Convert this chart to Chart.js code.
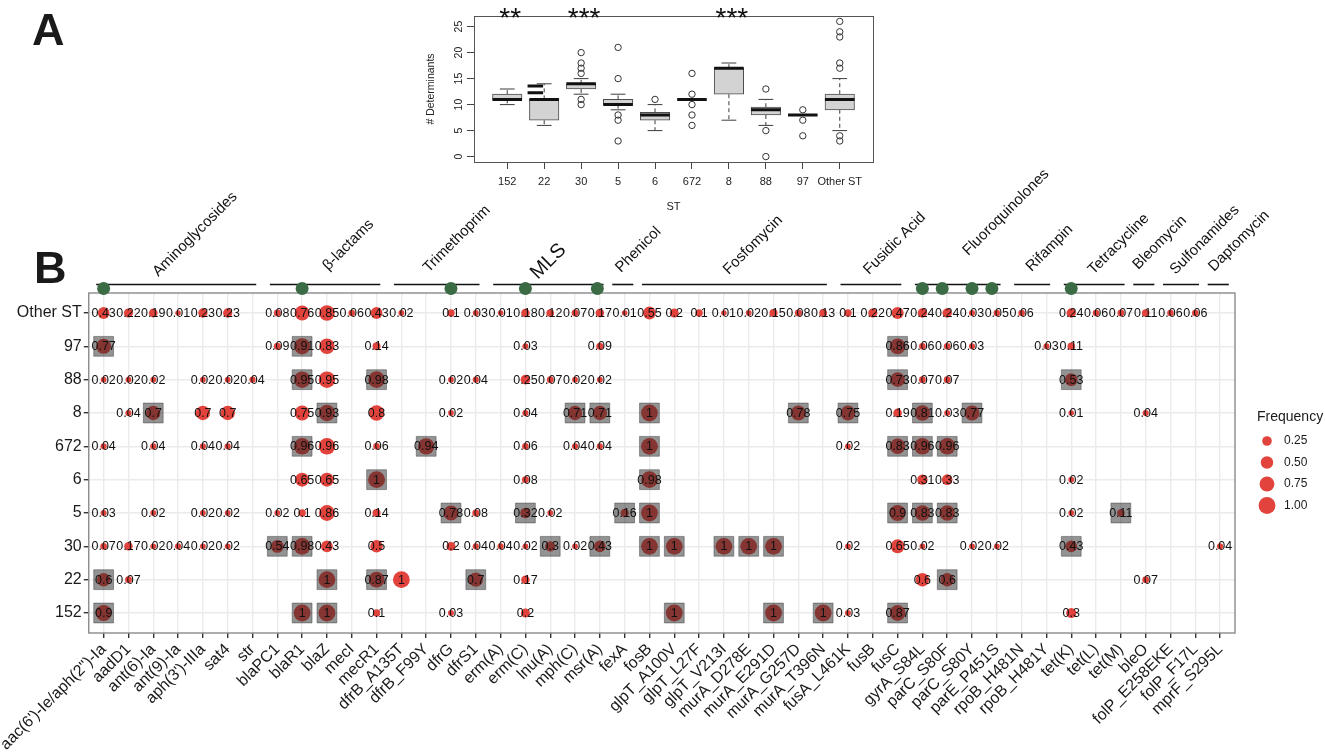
<!DOCTYPE html>
<html>
<head>
<meta charset="utf-8">
<script src="https://cdn.jsdelivr.net/npm/chart.js@4.4.1/dist/chart.umd.min.js"></script>
<style>
  body { margin: 0; background: #fff; }
  #wrap { position: relative; width: 1325px; height: 752px; background: #fff; }
  #panelB { position: absolute; left: 0; top: 0; }
  #panelA { position: absolute; left: 380px; top: 0; }
</style>
</head>
<body>
<div id="wrap">
  <canvas id="panelB" width="1325" height="752"></canvas>
  <canvas id="panelA" width="520" height="215"></canvas>
</div>
<script>
Chart.defaults.font.family = "'Liberation Sans', Arial, sans-serif";
Chart.defaults.color = '#1a1a1a';
const FONT = "'Liberation Sans', Arial, sans-serif";

/* --------------- Panel A : number of determinants per ST --------------- */
const stNames = ['152', '22', '30', '5', '6', '672', '8', '88', '97', 'Other ST'];
const boxMin = [10, 6, 12, 9, 5, 11, 7, 6, 8, 5];
const boxQ1  = [11, 7, 13, 10, 7, 11, 12, 8, 8, 9];
const boxMed = [11, 11, 14, 10, 8, 11, 17, 9, 8, 11];
const boxQ3  = [12, 11, 14, 11, 8.5, 11, 17, 9.5, 8, 12];
const boxMax = [13, 14, 15, 12, 10, 11, 18, 11, 8, 15];
const outliers = [
  [], [], [20, 18, 17, 16, 11, 10], [21, 15, 8, 7, 3], [11],
  [16, 12, 10, 8, 6], [], [13, 5, 0], [9, 7, 4], [26, 24, 23, 18, 17, 4, 3]
];
const st22Marks = [13.6, 12.3];
const sigStars = ['**', '', '***', '', '', '', '***', '', '', ''];
const yTicksA = [0, 5, 10, 15, 20, 25];

/* --------------- Panel B : frequency of each determinant per ST --------------- */
const genes = [
  'aac(6\')-Ie/aph(2")-Ia', 'aadD1', 'ant(6)-Ia', 'ant(9)-Ia', 'aph(3\')-IIIa', 'sat4', 'str',
  'blaPC1', 'blaR1', 'blaZ', 'mecI', 'mecR1', 'dfrB_A135T', 'dfrB_F99Y', 'dfrG', 'dfrS1',
  'erm(A)', 'erm(C)', 'lnu(A)', 'mph(C)', 'msr(A)', 'fexA', 'fosB', 'glpT_A100V', 'glpT_L27F',
  'glpT_V213I', 'murA_D278E', 'murA_E291D', 'murA_G257D', 'murA_T396N', 'fusA_L461K', 'fusB',
  'fusC', 'gyrA_S84L', 'parC_S80F', 'parC_S80Y', 'parE_P451S', 'rpoB_H481N', 'rpoB_H481Y',
  'tet(K)', 'tet(L)', 'tet(M)', 'bleO', 'folP_E258EKE', 'folP_F17L', 'mprF_S295L'
];

const freqOther = [0.43,0.22,0.19,0.01,0.23,0.23,null,0.08,0.76,0.85, 0.06,0.43,0.02,null,0.1,0.03,0.01,0.18,0.12,0.07,
  0.17,0.01,0.55,0.2,0.1,0.01,0.02,0.15,0.08,0.13, 0.1,0.22,0.47,0.24,0.24,0.03,0.05,0.06,null,0.24, 0.06,0.07,0.11,0.06,0.06,null];
const freq97 = [0.77,null,null,null,null,null,null,0.09,0.91,0.83, null,0.14,null,null,null,null,null,0.03,null,null,
  0.09,null,null,null,null,null,null,null,null,null, null,null,0.86,0.06,0.06,0.03,null,null,0.03,0.11, null,null,null,null,null,null];
const freq88 = [0.02,0.02,0.02,null,0.02,0.02,0.04,null,0.95,0.95, null,0.98,null,null,0.02,0.04,null,0.25,0.07,0.02,
  0.02,null,null,null,null,null,null,null,null,null, null,null,0.73,0.07,0.07,null,null,null,null,0.53, null,null,null,null,null,null];
const freq8 = [null,0.04,0.7,null,0.7,0.7,null,null,0.75,0.93, null,0.8,null,null,0.02,null,null,0.04,null,0.71,
  0.71,null,1,null,null,null,null,null,0.78,null, 0.75,null,0.19,0.81,0.03,0.77,null,null,null,0.01, null,null,0.04,null,null,null];
const freq672 = [0.04,null,0.04,null,0.04,0.04,null,null,0.96,0.96, null,0.06,null,0.94,null,null,null,0.06,null,0.04,
  0.04,null,1,null,null,null,null,null,null,null, 0.02,null,0.83,0.96,0.96,null,null,null,null,null, null,null,null,null,null,null];
const freq6 = [null,null,null,null,null,null,null,null,0.65,0.65, null,1,null,null,null,null,null,0.08,null,null,
  null,null,0.98,null,null,null,null,null,null,null, null,null,null,0.31,0.33,null,null,null,null,0.02, null,null,null,null,null,null];
const freq5 = [0.03,null,0.02,null,0.02,0.02,null,0.02,0.1,0.86, null,0.14,null,null,0.78,0.08,null,0.32,0.02,null,
  null,0.16,1,null,null,null,null,null,null,null, null,null,0.9,0.83,0.83,null,null,null,null,0.02, null,0.11,null,null,null,null];
const freq30 = [0.07,0.17,0.02,0.04,0.02,0.02,null,0.54,0.98,0.43, null,0.5,null,null,0.2,0.04,0.04,0.02,0.3,0.02,
  0.43,null,1,1,null,1,1,1,null,null, 0.02,null,0.65,0.02,null,0.02,0.02,null,null,0.43, null,null,null,null,null,0.04];
const freq22 = [0.6,0.07,null,null,null,null,null,null,null,1, null,0.87,1,null,null,0.7,null,0.17,null,null,
  null,null,null,null,null,null,null,null,null,null, null,null,null,0.6,0.6,null,null,null,null,null, null,null,0.07,null,null,null];
const freq152 = [0.9,null,null,null,null,null,null,null,1,1, null,0.1,null,null,0.03,null,null,0.2,null,null,
  null,null,null,1,null,null,null,1,null,1, 0.03,null,0.87,null,null,null,null,null,null,0.3, null,null,null,null,null,null];

/* columns (1-based) that are enriched in the ST : grey squares */
const enrOther = [];
const enr97 = [1, 9, 33];
const enr88 = [9, 12, 33, 40];
const enr8 = [3, 10, 20, 21, 23, 29, 31, 34, 36];
const enr672 = [9, 14, 23, 33, 34, 35];
const enr6 = [12, 23];
const enr5 = [15, 18, 22, 23, 33, 34, 35, 42];
const enr30 = [8, 9, 19, 21, 23, 24, 26, 27, 28, 40];
const enr22 = [1, 10, 12, 16, 35];
const enr152 = [1, 9, 10, 24, 28, 30, 33];

const groupNames = ['Aminoglycosides', 'β-lactams', 'Trimethoprim', 'MLS', 'Phenicol', 'Fosfomycin', 'Fusidic Acid',
  'Fluoroquinolones', 'Rifampin', 'Tetracycline', 'Bleomycin', 'Sulfonamides', 'Daptomycin'];
const groupFirst = [1, 8, 13, 17, 22, 23, 31, 34, 38, 40, 43, 44, 46];
const groupLast = [7, 12, 16, 21, 22, 30, 33, 37, 39, 42, 43, 45, 46];
const greenDotCols = [1, 9, 15, 18, 20.9, 34, 34.8, 36, 36.8, 40];
const legendValues = [0.25, 0.5, 0.75, 1];

/* --------------- layout of the header labels (column units / page px) --------------- */
const headerLabelCol = [3.2, 10.05, 14.1, 18.5, 21.85, 26.2, 31.85, 35.85, 38.4, 40.9, 42.7, 44.2, 45.75];
const headerLabelY = [277, 271, 273, 280, 273, 275, 275, 256, 272, 275, 270, 275, 272];

const dotRadius = v => Math.sqrt(7 + 64 * v);

/* --------------- Points for the dot plot --------------- */
const rowFreqs = [freq152, freq22, freq30, freq5, freq6, freq672, freq8, freq88, freq97, freqOther];
const rowEnriched = [enr152, enr22, enr30, enr5, enr6, enr672, enr8, enr88, enr97, enrOther];
const dotPoints = [];
const squarePoints = [];
rowFreqs.forEach((row, j) => {
  row.forEach((v, i) => {
    if (v !== null) dotPoints.push({ x: i + 1, y: j + 1, r: dotRadius(v), v: v });
  });
  rowEnriched[j].forEach(c => squarePoints.push({ x: c, y: j + 1, r: 14 }));
});

/* --------------- Plugins : panel B --------------- */
const valueLabels = {
  id: 'valueLabels',
  afterDatasetsDraw(chart) {
    const ctx = chart.ctx;
    const meta = chart.getDatasetMeta(0);
    const data = chart.data.datasets[0].data;
    ctx.save();
    ctx.font = '12.5px ' + FONT;
    ctx.fillStyle = '#111';
    ctx.textAlign = 'center';
    ctx.textBaseline = 'middle';
    meta.data.forEach((pt, k) => ctx.fillText(String(data[k].v), pt.x, pt.y + 0.5));
    ctx.restore();
  }
};

const panelDecor = {
  id: 'panelDecor',
  afterDraw(chart) {
    const { ctx, chartArea, scales: { x } } = chart;
    ctx.save();
    // panel border
    ctx.strokeStyle = '#8a8a8a';
    ctx.lineWidth = 1.4;
    ctx.strokeRect(chartArea.left, chartArea.top, chartArea.right - chartArea.left, chartArea.bottom - chartArea.top);

    // class lines and labels above the panel
    const lineY = 284.5;
    ctx.strokeStyle = '#111';
    ctx.lineWidth = 1.6;
    groupNames.forEach((name, g) => {
      const single = groupFirst[g] === groupLast[g];
      const x0 = x.getPixelForValue(groupFirst[g] - (single ? 0.5 : 0.3));
      const x1 = x.getPixelForValue(groupLast[g] + (single ? 0.35 : 0.15));
      ctx.beginPath();
      ctx.moveTo(x0, lineY);
      ctx.lineTo(x1, lineY);
      ctx.stroke();

      ctx.save();
      ctx.translate(x.getPixelForValue(headerLabelCol[g]), headerLabelY[g]);
      ctx.rotate(-Math.PI / 4);
      ctx.fillStyle = '#111';
      ctx.font = (name === 'MLS' ? '20px ' : '15px ') + FONT;
      ctx.textAlign = 'left';
      ctx.textBaseline = 'alphabetic';
      ctx.fillText(name, 0, 0);
      ctx.restore();
    });

    ctx.fillStyle = '#3b6b45';
    greenDotCols.forEach(c => {
      ctx.beginPath();
      ctx.arc(x.getPixelForValue(c), lineY + 4, 6.5, 0, Math.PI * 2);
      ctx.fill();
    });

    // size legend
    ctx.fillStyle = '#1a1a1a';
    ctx.font = '14px ' + FONT;
    ctx.textAlign = 'left';
    ctx.textBaseline = 'middle';
    ctx.fillText('Frequency', 1257, 417);
    legendValues.forEach((v, k) => {
      const ly = 441 + k * 21.5;
      ctx.fillStyle = 'rgba(224,52,44,0.92)';
      ctx.beginPath();
      ctx.arc(1267, ly, dotRadius(v), 0, Math.PI * 2);
      ctx.fill();
      ctx.fillStyle = '#1a1a1a';
      ctx.font = '12px ' + FONT;
      ctx.fillText(v.toFixed(2), 1284, ly);
    });

    // panel letters
    ctx.font = 'bold 45px ' + FONT;
    ctx.fillStyle = '#1a1a1a';
    ctx.textBaseline = 'alphabetic';
    ctx.fillText('A', 32, 45);
    ctx.fillText('B', 34, 283);
    ctx.restore();
  }
};

/* --------------- Chart : panel B --------------- */
new Chart(document.getElementById('panelB'), {
  type: 'bubble',
  data: {
    datasets: [
      { data: dotPoints, backgroundColor: 'rgba(224,52,44,0.92)', borderWidth: 0, order: 2 },
      { data: squarePoints, pointStyle: 'rect', backgroundColor: 'rgba(40,40,40,0.5)',
        borderColor: 'rgba(70,70,70,0.5)', borderWidth: 1, order: 1 }
    ]
  },
  options: {
    responsive: false,
    animation: false,
    events: [],
    layout: { padding: { top: 293, right: 90, left: 0, bottom: 0 } },
    plugins: { legend: { display: false }, tooltip: { enabled: false } },
    scales: {
      x: {
        type: 'linear', min: 0.4, max: 46.6,
        afterBuildTicks: s => { s.ticks = genes.map((_, i) => ({ value: i + 1 })); },
        afterFit: s => { s.height = 119; },
        ticks: { autoSkip: false, minRotation: 45, maxRotation: 45, padding: 2,
          font: { size: 16 }, color: '#1a1a1a', callback: v => genes[v - 1] },
        grid: { color: '#ebebeb', lineWidth: 1.4, tickColor: '#333', tickLength: 5 },
        border: { display: false }
      },
      y: {
        type: 'linear', min: 0.4, max: 10.6,
        afterBuildTicks: s => { s.ticks = stNames.map((_, i) => ({ value: i + 1 })); },
        afterFit: s => { s.width = 88; },
        ticks: { padding: 2, font: { size: 16 }, color: '#1a1a1a', callback: v => stNames[v - 1] },
        grid: { color: '#ebebeb', lineWidth: 1.4, tickColor: '#333', tickLength: 5 },
        border: { display: false }
      }
    }
  },
  plugins: [valueLabels, panelDecor]
});

/* --------------- Plugin : boxplot parts for panel A --------------- */
const boxParts = {
  id: 'boxParts',
  beforeDatasetsDraw(chart) {
    const { ctx, scales: { x, y } } = chart;
    ctx.save();
    ctx.strokeStyle = '#3c3c3c';
    ctx.lineWidth = 1;
    stNames.forEach((_, i) => {
      const xc = x.getPixelForValue(i + 1);
      const cap = x.getPixelForValue(i + 1.2) - xc;
      ctx.setLineDash([4, 3]);
      ctx.beginPath();
      ctx.moveTo(xc, y.getPixelForValue(boxQ3[i]));
      ctx.lineTo(xc, y.getPixelForValue(boxMax[i]));
      ctx.moveTo(xc, y.getPixelForValue(boxQ1[i]));
      ctx.lineTo(xc, y.getPixelForValue(boxMin[i]));
      ctx.stroke();
      ctx.setLineDash([]);
      ctx.beginPath();
      [boxMin[i], boxMax[i]].forEach(v => {
        const py = y.getPixelForValue(v);
        ctx.moveTo(xc - cap, py);
        ctx.lineTo(xc + cap, py);
      });
      ctx.stroke();
    });
    ctx.restore();
  },
  afterDatasetsDraw(chart) {
    const { ctx, scales: { x, y } } = chart;
    ctx.save();
    ctx.strokeStyle = '#111';
    ctx.lineWidth = 3;
    ctx.beginPath();
    stNames.forEach((_, i) => {
      const py = y.getPixelForValue(boxMed[i]);
      ctx.moveTo(x.getPixelForValue(i + 0.6), py);
      ctx.lineTo(x.getPixelForValue(i + 1.4), py);
    });
    st22Marks.forEach(v => {
      const py = y.getPixelForValue(v);
      ctx.moveTo(x.getPixelForValue(1.55), py);
      ctx.lineTo(x.getPixelForValue(1.97), py);
    });
    ctx.stroke();
    ctx.restore();
  },
  afterDraw(chart) {
    const { ctx, chartArea, scales: { x, y } } = chart;
    ctx.save();
    ctx.strokeStyle = '#555';
    ctx.lineWidth = 1;
    ctx.strokeRect(chartArea.left + 0.5, chartArea.top + 0.5,
      chartArea.right - chartArea.left, chartArea.bottom - chartArea.top);

    ctx.fillStyle = '#222';
    ctx.font = '10.5px ' + FONT;
    ctx.textAlign = 'center';
    ctx.textBaseline = 'alphabetic';
    yTicksA.forEach(v => {
      ctx.save();
      ctx.translate(81.5, y.getPixelForValue(v));
      ctx.rotate(-Math.PI / 2);
      ctx.fillText(String(v), 0, 0);
      ctx.restore();
    });
    ctx.save();
    ctx.translate(54, (chartArea.top + chartArea.bottom) / 2);
    ctx.rotate(-Math.PI / 2);
    ctx.fillText('# Determinants', 0, 0);
    ctx.restore();

    ctx.font = '11px ' + FONT;
    ctx.textBaseline = 'middle';
    ctx.fillText('ST', (chartArea.left + chartArea.right) / 2, 207);

    ctx.font = '28px ' + FONT;
    ctx.fillStyle = '#111';
    ctx.textBaseline = 'alphabetic';
    sigStars.forEach((s, i) => {
      if (s) ctx.fillText(s, x.getPixelForValue(i + 1) + 3, 27);
    });
    ctx.restore();
  }
};

/* --------------- Chart : panel A --------------- */
const boxData = stNames.map((_, i) => ({ x: i + 1, y: [boxQ1[i], boxQ3[i]] }));
const outlierData = [];
outliers.forEach((list, i) => list.forEach(v => outlierData.push({ x: i + 1, y: v })));

new Chart(document.getElementById('panelA'), {
  type: 'bar',
  data: {
    datasets: [
      { type: 'bar', data: boxData, backgroundColor: '#d3d3d3', borderColor: '#4d4d4d',
        borderWidth: 1, borderSkipped: false, barThickness: 29.5, order: 2 },
      { type: 'scatter', data: outlierData, pointRadius: 3.2, pointBorderWidth: 1,
        pointBorderColor: '#333', pointBackgroundColor: 'rgba(0,0,0,0)', order: 1 }
    ]
  },
  options: {
    responsive: false,
    animation: false,
    events: [],
    layout: { padding: { top: 16, right: 27, left: 0, bottom: 0 } },
    plugins: { legend: { display: false }, tooltip: { enabled: false } },
    scales: {
      x: {
        type: 'linear', min: 0.1, max: 10.9, offset: false,
        afterBuildTicks: s => { s.ticks = stNames.map((_, i) => ({ value: i + 1 })); },
        afterFit: s => { s.height = 53; },
        ticks: { autoSkip: false, maxRotation: 0, minRotation: 0, padding: 6,
          font: { size: 11 }, color: '#222', callback: v => stNames[v - 1] },
        grid: { offset: false, drawOnChartArea: false, tickLength: 7, tickColor: '#444' },
        border: { display: false }
      },
      y: {
        min: -1.04, max: 27.04,
        afterBuildTicks: s => { s.ticks = yTicksA.map(v => ({ value: v })); },
        afterFit: s => { s.width = 94; },
        ticks: { callback: () => '' },
        grid: { drawOnChartArea: false, tickLength: 7, tickColor: '#444' },
        border: { display: false }
      }
    }
  },
  plugins: [boxParts]
});
</script>
</body>
</html>
